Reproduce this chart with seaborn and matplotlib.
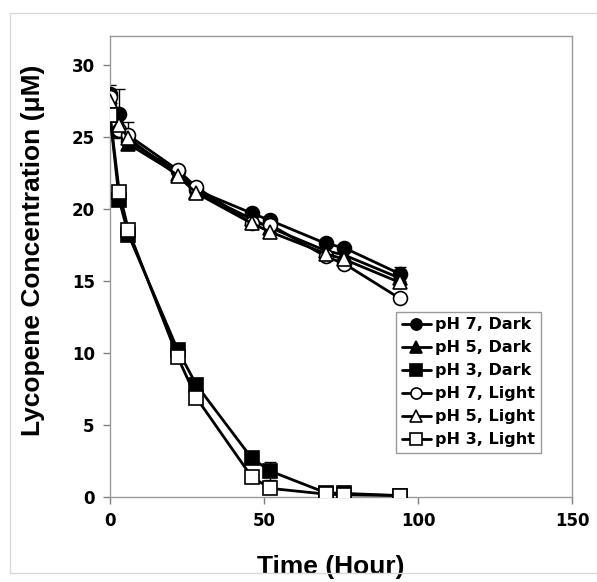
import numpy as np
import pandas as pd
import matplotlib
matplotlib.use("Agg")
import matplotlib.pyplot as plt
from matplotlib.patches import Rectangle
from matplotlib.font_manager import FontProperties
import seaborn as sns

time_h = [0, 3, 6, 22, 28, 46, 52, 70, 76, 94]
ph7_dark = [28.0, 26.6, 24.7, 22.6, 21.3, 19.7, 19.2, 17.6, 17.3, 15.5]
ph5_dark = [27.8, 25.5, 24.5, 22.4, 21.2, 19.3, 18.7, 17.1, 16.8, 15.2]
ph3_dark = [26.5, 20.6, 18.2, 10.2, 7.8, 2.7, 1.8, 0.3, 0.25, 0.1]
ph7_light = [27.8, 25.5, 25.1, 22.7, 21.5, 19.0, 18.9, 16.7, 16.2, 13.8]
ph5_light = [27.5, 25.8, 24.9, 22.3, 21.1, 19.0, 18.4, 16.9, 16.5, 14.9]
ph3_light = [26.5, 21.2, 18.5, 9.7, 6.9, 1.4, 0.6, 0.2, 0.15, 0.1]

series_names = ["pH 7, Dark", "pH 5, Dark", "pH 3, Dark",
                "pH 7, Light", "pH 5, Light", "pH 3, Light"]
series_values = [ph7_dark, ph5_dark, ph3_dark, ph7_light, ph5_light, ph3_light]

# error bars (series, time, +/- value)
err_series = ["pH 7, Dark", "pH 7, Dark", "pH 7, Light", "pH 3, Dark", "pH 7, Dark"]
err_time = [0, 3, 6, 52, 94]
err_size = [0.6, 1.7, 0.9, 0.6, 0.5]

x_ticks = [0, 50, 100, 150]
y_ticks = [0, 5, 10, 15, 20, 25, 30]

rows = []
for name, vals in zip(series_names, series_values):
    for t, v in zip(time_h, vals):
        rows.append({"Time": t, "Conc": v, "Series": name})
df = pd.DataFrame(rows)

sns.set_style("white")
plt.rcParams['font.family'] = ['DejaVu Sans']
plt.rcParams['text.color'] = 'black'
plt.rcParams['axes.labelcolor'] = 'black'

fig = plt.figure(figsize=(5.97, 5.82), dpi=100)
ax = fig.add_axes([110/597, 1-497/582, 462/597, 461/582])

markers = {"pH 7, Dark": "o", "pH 5, Dark": "^", "pH 3, Dark": "s",
           "pH 7, Light": "o", "pH 5, Light": "^", "pH 3, Light": "s"}
faces = {"pH 7, Dark": "black", "pH 5, Dark": "black", "pH 3, Dark": "black",
         "pH 7, Light": "white", "pH 5, Light": "white", "pH 3, Light": "white"}

for s, t, e in zip(err_series, err_time, err_size):
    v = series_values[series_names.index(s)][time_h.index(t)]
    ax.errorbar([t], [v], yerr=[e], fmt='none', ecolor='black',
                elinewidth=1.0, capsize=4, capthick=1.0, zorder=2)

for i, name in enumerate(series_names):
    sub = df[df["Series"] == name]
    ms = 10 if markers[name] != "^" else 10.5
    sns.lineplot(data=sub, x="Time", y="Conc", ax=ax, color="black",
                 linewidth=2.0, marker=markers[name], markersize=ms,
                 markerfacecolor=faces[name], markeredgecolor="black",
                 markeredgewidth=1.2, label=name, zorder=3 + i)

ax.set_xlim(0, 150)
ax.set_ylim(0, 32)
ax.set_xticks(x_ticks)
ax.set_yticks(y_ticks)
ax.set_xticklabels([str(v) for v in x_ticks], fontsize=12, fontweight='bold')
ax.set_yticklabels([str(v) for v in y_ticks], fontsize=12, fontweight='bold')
ax.tick_params(axis='both', direction='out', length=5, width=1, color='#808080',
               labelcolor='black', bottom=True, left=True, pad=6)
for sp in ax.spines.values():
    sp.set_color('#9a9a9a')
    sp.set_linewidth(1.0)

label_font = FontProperties(family='Liberation Sans', weight='bold', size=19)
ax.set_xlabel("Time (Hour)", fontproperties=label_font, color='black')
ax.set_ylabel("Lycopene Concentration (\u03bcM)", fontproperties=label_font,
              color='black')
ax.xaxis.set_label_coords(0.478, -0.125)
ax.yaxis.set_label_coords(-0.14, 0.535)

leg = ax.legend(loc='upper right', bbox_to_anchor=(0.933, 0.402), frameon=True,
                fancybox=False, edgecolor='#9a9a9a', framealpha=1,
                prop={'weight': 'bold', 'size': 11.5}, handlelength=1.8,
                handletextpad=0.3, borderpad=0.35, labelspacing=0.5,
                borderaxespad=0, markerscale=0.8)
leg.get_frame().set_linewidth(1.0)
for txt in leg.get_texts():
    txt.set_color('black')

fig.add_artist(Rectangle((10/597, 1-573/582), 600/597, (573-13)/582,
                         transform=fig.transFigure, fill=False,
                         edgecolor='#d9d9d9', linewidth=1.0))

fig.savefig("out.png", dpi=100)
